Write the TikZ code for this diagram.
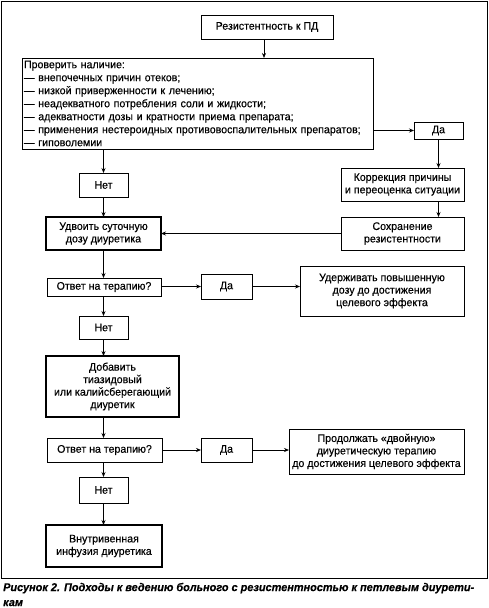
\documentclass[tikz,border=0pt]{standalone}
\usepackage{fontspec}
\setmainfont{Liberation Sans}[FakeBold=0.3,FakeStretch=0.965]
\usetikzlibrary{arrows.meta}
\begin{document}
\begin{tikzpicture}[x=1pt,y=-1pt,
  box/.style={draw,line width=0.8pt,inner sep=0pt,outer sep=0pt,align=center,
    font=\fontsize{11}{12.5}\selectfont},
  thickbox/.style={box,line width=2pt},
  conn/.style={line width=0.7pt,-{Stealth[length=5pt,width=4pt]}},
  plain/.style={line width=0.7pt}]
\useasboundingbox (0,0) rectangle (489,608);
\draw[line width=1pt] (1.5,1.5) rectangle (487.5,578);
\node[box,minimum width=132,minimum height=24] (top) at (267,27) {Резистентность к ПД};
\node[box,minimum width=351,minimum height=91,text width=347,align=left,inner xsep=2pt,font=\fontsize{11}{13}\selectfont] (check) at (197.5,103.5) {Проверить наличие:\\
— внепочечных причин отеков;\\
— низкой приверженности к лечению;\\
— неадекватного потребления соли и жидкости;\\
— адекватности дозы и кратности приема препарата;\\
— применения нестероидных противовоспалительных препаратов;\\
— гиповолемии};
\node[box,minimum width=49,minimum height=17] (da1) at (438.5,130.5) {Да};
\node[box,minimum width=123,minimum height=33] (korr) at (402.5,184.5) {Коррекция причины\\и переоценка ситуации};
\node[box,minimum width=123,minimum height=33] (sohr) at (402.5,233.5) {Сохранение\\резистентности};
\node[box,minimum width=49,minimum height=24] (net1) at (103.5,185) {Нет};
\node[thickbox,minimum width=115,minimum height=33] (udv) at (103.5,233.5) {Удвоить суточную\\дозу диуретика};
\node[box,minimum width=114,minimum height=18] (otv1) at (104,287) {Ответ на терапию?};
\node[box,minimum width=51,minimum height=25] (da2) at (226.5,286.5) {Да};
\node[box,minimum width=164,minimum height=50] (uder) at (382,291) {Удерживать повышенную\\дозу до достижения\\целевого эффекта};
\node[box,minimum width=49,minimum height=23] (net2) at (103.5,327.5) {Нет};
\node[thickbox,minimum width=133,minimum height=61] (dob) at (112.5,386.5) {Добавить\\тиазидовый\\или калийсберегающий\\диуретик};
\node[box,minimum width=115,minimum height=24] (otv2) at (104.5,450) {Ответ на терапию?};
\node[box,minimum width=51,minimum height=24] (da3) at (226.5,450) {Да};
\node[box,minimum width=175,minimum height=45] (prod) at (376.5,451.5) {Продолжать «двойную»\\диуретическую терапию\\до достижения целевого эффекта};
\node[box,minimum width=49,minimum height=26] (net3) at (103.5,490) {Нет};
\node[thickbox,minimum width=116,minimum height=42] (vnut) at (104,546) {Внутривенная\\инфузия диуретика};
\coordinate (c1) at (264,0);
\draw[conn] (top.south -| c1) -- (check.north -| c1);
\draw[conn] (check.east |- da1) -- (da1.west);
\draw[conn] (da1.south) -- (da1.south |- korr.north);
\draw[conn] (check.south -| net1) -- (net1.north);
\draw[conn] (net1.south) -- (net1.south |- udv.north);
\draw[conn] (korr.south -| da1) -- (sohr.north -| da1);
\draw[conn] (sohr.west) -- (udv.east |- sohr.west);
\draw[conn] (udv.south -| net1) -- (otv1.north -| net1);
\draw[conn] (otv1.east |- da2) -- (da2.west);
\draw[conn] (da2.east) -- (uder.west |- da2);
\draw[conn] (otv1.south -| net2) -- (net2.north);
\draw[conn] (net2.south) -- (net2.south |- dob.north);
\draw[conn] (dob.south -| net2) -- (otv2.north -| net2);
\draw[conn] (otv2.east) -- (da3.west);
\draw[conn] (da3.east) -- (prod.west |- da3);
\draw[conn] (otv2.south -| net3) -- (net3.north);
\draw[conn] (net3.south) -- (net3.south |- vnut.north);
\node[anchor=west,inner sep=0pt,font=\fontsize{11.3}{15}\selectfont\bfseries\itshape,align=left] (cap) at (3,594.5) {Рисунок 2. Подходы к ведению больного с резистентностью к петлевым диурети-\\кам};
\end{tikzpicture}
\end{document}
